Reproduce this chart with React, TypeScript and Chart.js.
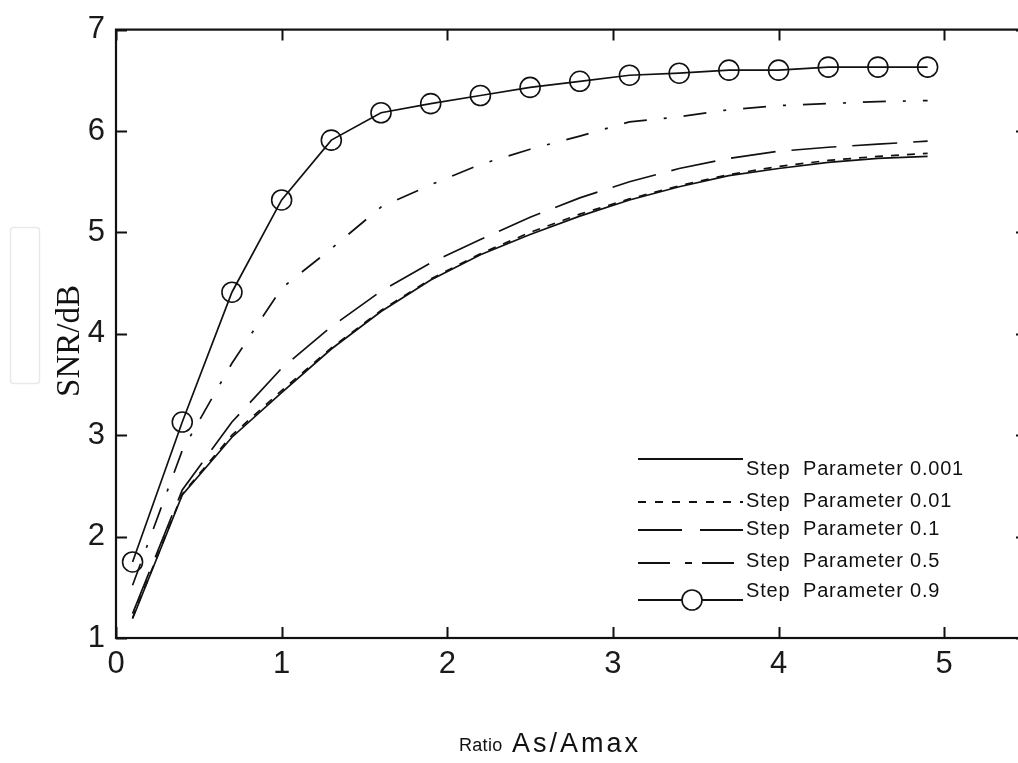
import React, { useEffect, useRef } from "react";
import { Chart, registerables } from "chart.js";

Chart.register(...registerables);

// ---- data ----
const ratioX = [0.1, 0.4, 0.7, 1.0, 1.3, 1.6, 1.9, 2.2, 2.5, 2.8, 3.1, 3.4, 3.7, 4.0, 4.3, 4.6, 4.9];
const snrStep0001 = [1.19, 2.41, 2.98, 3.42, 3.85, 4.22, 4.53, 4.78, 4.98, 5.16, 5.32, 5.45, 5.56, 5.63, 5.69, 5.73, 5.75];
const snrStep001 = [1.2, 2.42, 3.0, 3.44, 3.86, 4.23, 4.54, 4.79, 5.0, 5.18, 5.33, 5.46, 5.57, 5.65, 5.71, 5.75, 5.78];
const snrStep01 = [1.24, 2.46, 3.13, 3.66, 4.07, 4.42, 4.7, 4.93, 5.15, 5.34, 5.5, 5.63, 5.73, 5.8, 5.84, 5.87, 5.9];
const snrStep05 = [1.52, 2.85, 3.71, 4.45, 4.84, 5.25, 5.47, 5.67, 5.82, 5.95, 6.09, 6.14, 6.21, 6.25, 6.27, 6.29, 6.3];
const snrStep09 = [1.75, 3.13, 4.41, 5.32, 5.91, 6.18, 6.27, 6.35, 6.43, 6.49, 6.55, 6.57, 6.6, 6.6, 6.63, 6.63, 6.63];
const seriesLabels = [
  "Step  Parameter 0.001",
  "Step  Parameter 0.01",
  "Step  Parameter 0.1",
  "Step  Parameter 0.5",
  "Step  Parameter 0.9",
];
const xTickValues = [0, 1, 2, 3, 4, 5];
const yTickValues = [1, 2, 3, 4, 5, 6, 7];
const xAxisTitleSmall = "Ratio";
const xAxisTitleLarge = "As/Amax";
const yAxisTitle = "SNR/dB";

const CANVAS_W = 1045;
const CANVAS_H = 763;
const SANS = "'Liberation Sans', Arial, sans-serif";
const SERIF = "'Liberation Serif', 'Times New Roman', serif";

const toPoints = (ys: number[]) => ratioX.map((x, i) => ({ x, y: ys[i] }));

const plotDashes = [[], [8, 8], [45, 16], [23, 17, 3, 17], []];
const legendDashes = [[], [8, 9], [44, 18], [32, 15, 7, 10], []];
const legendRows = [
  { lineY: 459, textY: 469 },
  { lineY: 502, textY: 501 },
  { lineY: 530, textY: 529 },
  { lineY: 563, textY: 561 },
  { lineY: 600, textY: 591 },
];

const decorPlugin = {
  id: "decor",
  afterDraw(chart: any) {
    const ctx = chart.ctx as CanvasRenderingContext2D;
    const { left, right, top, bottom } = chart.chartArea;
    const xs = chart.scales.x;
    const ys = chart.scales.y;
    ctx.save();
    // frame
    ctx.strokeStyle = "#111";
    ctx.lineWidth = 2.2;
    ctx.setLineDash([]);
    ctx.strokeRect(left, top, right - left, bottom - top);
    // inward ticks
    const tl = 11;
    ctx.lineWidth = 2;
    ctx.beginPath();
    xTickValues.forEach((v) => {
      const px = Math.round(xs.getPixelForValue(v)) + 0.5;
      ctx.moveTo(px, bottom);
      ctx.lineTo(px, bottom - tl);
      ctx.moveTo(px, top);
      ctx.lineTo(px, top + tl);
    });
    yTickValues.forEach((v) => {
      const py = Math.round(ys.getPixelForValue(v)) + 0.5;
      ctx.moveTo(left, py);
      ctx.lineTo(left + tl, py);
      ctx.moveTo(right, py);
      ctx.lineTo(right - tl, py);
    });
    ctx.stroke();

    // legend
    const lx0 = 638;
    const lx1 = 743;
    chart.data.datasets.forEach((ds: any, i: number) => {
      const row = legendRows[i];
      ctx.strokeStyle = "#111";
      ctx.lineWidth = 1.8;
      ctx.setLineDash(legendDashes[i]);
      ctx.beginPath();
      ctx.moveTo(lx0, row.lineY);
      ctx.lineTo(lx1, row.lineY);
      ctx.stroke();
      ctx.setLineDash([]);
      if (i === 4) {
        ctx.fillStyle = "#fff";
        ctx.beginPath();
        ctx.arc(692, row.lineY, 10, 0, Math.PI * 2);
        ctx.fill();
        ctx.lineWidth = 1.6;
        ctx.stroke();
      }
      ctx.fillStyle = "#111";
      ctx.font = `20px ${SANS}`;
      (ctx as any).letterSpacing = "0.8px";
      ctx.textAlign = "left";
      ctx.textBaseline = "middle";
      ctx.fillText(ds.label, 746, row.textY);
      (ctx as any).letterSpacing = "0px";
    });

    // axis titles
    ctx.fillStyle = "#111";
    ctx.textBaseline = "alphabetic";
    ctx.textAlign = "left";
    ctx.font = `18px ${SANS}`;
    (ctx as any).letterSpacing = "0.3px";
    ctx.fillText(xAxisTitleSmall, 459, 751);
    ctx.font = `27px ${SANS}`;
    (ctx as any).letterSpacing = "3px";
    ctx.fillText(xAxisTitleLarge, 512, 752);
    (ctx as any).letterSpacing = "0px";

    ctx.save();
    ctx.translate(79, 341);
    ctx.rotate(-Math.PI / 2);
    ctx.font = `33px ${SERIF}`;
    ctx.textAlign = "center";
    ctx.textBaseline = "alphabetic";
    ctx.fillText(yAxisTitle, 0, 0);
    ctx.restore();

    // faint box on the left
    ctx.strokeStyle = "#e6eaea";
    ctx.lineWidth = 1.5;
    ctx.beginPath();
    (ctx as any).roundRect(10.5, 227.5, 29, 156, 3);
    ctx.stroke();
    ctx.restore();
  },
};

export default function App() {
  const canvasRef = useRef<HTMLCanvasElement | null>(null);

  useEffect(() => {
    const canvas = canvasRef.current;
    if (!canvas) return;
    const seriesValues = [snrStep0001, snrStep001, snrStep01, snrStep05, snrStep09];
    const chart = new Chart(canvas, {
      type: "line",
      data: {
        datasets: seriesValues.map((vals, i) => ({
          label: seriesLabels[i],
          data: toPoints(vals),
          borderColor: "#111",
          backgroundColor: "rgba(0,0,0,0)",
          borderWidth: 1.7,
          borderDash: plotDashes[i],
          pointRadius: i === 4 ? 10 : 0,
          pointBorderWidth: 1.6,
          pointBorderColor: "#111",
          pointBackgroundColor: "rgba(0,0,0,0)",
          pointStyle: "circle",
          tension: 0,
          fill: false,
        })),
      },
      options: {
        responsive: false,
        animation: false,
        devicePixelRatio: 1,
        layout: { padding: { top: 27, right: CANVAS_W - 1027, left: 0, bottom: 0 } },
        plugins: {
          legend: { display: false },
          tooltip: { enabled: false },
          title: { display: false },
        },
        scales: {
          x: {
            type: "linear",
            min: 0,
            max: 5.5,
            afterBuildTicks: (scale: any) => {
              scale.ticks = xTickValues.map((v) => ({ value: v }));
            },
            afterFit: (scale: any) => {
              scale.height = CANVAS_H - 638;
            },
            grid: { display: false, drawTicks: false },
            border: { display: false },
            ticks: {
              padding: 8,
              color: "#1a1a1a",
              font: { family: SANS, size: 31 },
              maxRotation: 0,
              autoSkip: false,
              callback: (v: any) => String(v),
            },
          },
          y: {
            type: "linear",
            min: 1,
            max: 7,
            afterBuildTicks: (scale: any) => {
              scale.ticks = yTickValues.map((v) => ({ value: v }));
            },
            afterFit: (scale: any) => {
              scale.width = 116;
            },
            grid: { display: false, drawTicks: false },
            border: { display: false },
            ticks: {
              padding: 11,
              color: "#1a1a1a",
              font: { family: SANS, size: 31 },
              autoSkip: false,
              callback: (v: any) => String(v),
            },
          },
        },
      },
      plugins: [decorPlugin],
    });
    return () => chart.destroy();
  }, []);

  return (
    <div
      style={{
        position: "fixed",
        left: 0,
        top: 0,
        width: 1018,
        height: 763,
        overflow: "hidden",
        background: "#fff",
      }}
    >
      <canvas
        ref={canvasRef}
        width={CANVAS_W}
        height={CANVAS_H}
        style={{ display: "block", width: CANVAS_W, height: CANVAS_H }}
      />
    </div>
  );
}
